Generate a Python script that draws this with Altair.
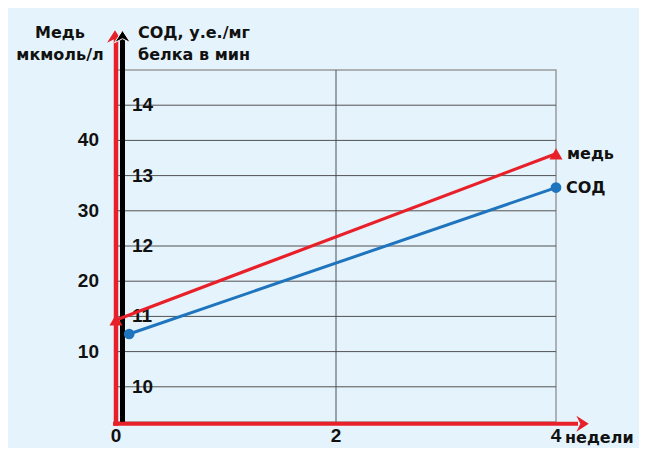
import altair as alt
import pandas as pd

# ---- data ----
copper_weeks = [0, 4]
copper = [14.5, 38.1]
sod_weeks = [0.12, 4]
sod = [10.75, 12.83]
x_ticks = [0, 2, 4]
copper_ticks = [10, 20, 30, 40]
sod_ticks = [10, 11, 12, 13, 14]
sod_grid = [10, 10.5, 11, 11.5, 12, 12.5, 13, 13.5, 14]
copper_title = ["Медь", "мкмоль/л"]
sod_title = ["СОД, у.е./мг", "белка в мин"]
x_unit = ["недели"]
series_labels = ["медь", "СОД"]

RED = "#e8202a"
BLUE = "#1f74be"
INK = "#111111"
BG = "#e5f4fc"
DIGIT_FONT = "Liberation Sans"
TEXT_FONT = "DejaVu Sans"
W, H = 440, 352

LABEL_ROW = 9.216   # SOD-scale level of the x tick label baseline
TOP_ROW = 14.95     # SOD-scale level of the axis titles / arrowheads

copper_df = pd.DataFrame({"w": copper_weeks, "v": copper})
sod_df = pd.DataFrame({"w": sod_weeks, "v": sod})
grid_df = pd.DataFrame({"v": sod_grid})
vgrid_df = pd.DataFrame({"w": [x_ticks[1]]})
xtick_df = pd.DataFrame({"w": x_ticks})
ctick_df = pd.DataFrame({"v": copper_ticks})
stick_df = pd.DataFrame({"v": sod_ticks})
ctitle_df = pd.DataFrame({"t": ["\n".join(copper_title)]})
stitle_df = pd.DataFrame({"t": ["\n".join(sod_title)]})
copper_lab = pd.DataFrame({"w": [copper_weeks[-1]], "v": [copper[-1]], "t": [series_labels[0]]})
sod_lab = pd.DataFrame({"w": [sod_weeks[-1]], "v": [sod[-1]], "t": [series_labels[1]]})
unit_df = pd.DataFrame({"w": [x_ticks[-1]], "t": x_unit})
one_df = pd.DataFrame({"k": [0]})

xs = alt.Scale(domain=[0, 4], nice=False, zero=False)
ys = alt.Scale(domain=[9.5, 14.5], nice=False, zero=False)
yc = alt.Scale(domain=[0, 50], nice=False, zero=False)


def X(field):
    return alt.X(field, type="quantitative", scale=xs, axis=None)


def XD(v):
    return alt.XDatum(v, type="quantitative", scale=xs, axis=None)


def YS(field):
    return alt.Y(field, type="quantitative", scale=ys, axis=None)


def YSD(v):
    return alt.YDatum(v, type="quantitative", scale=ys, axis=None)


def YC(field):
    return alt.Y(field, type="quantitative", scale=yc, axis=None)


UP = "M0,-1 L1,0.55 L0,0.05 L-1,0.55 Z"
RIGHT = "M1,0 L-0.55,-1 L-0.05,0 L-0.55,1 Z"

grid = alt.Chart(grid_df).mark_rule(color="#505050", strokeWidth=1).encode(
    y=YS("v"), x=XD(0), x2=alt.X2Datum(4))
vgrid = alt.Chart(vgrid_df).mark_rule(color="#505050", strokeWidth=1).encode(
    x=X("w"), y=YSD(9.5), y2=alt.Y2Datum(14.5))
red_v = alt.Chart(one_df).mark_rule(color=RED, strokeWidth=4.5).encode(
    x=XD(0), y=YSD(9.448), y2=alt.Y2Datum(TOP_ROW))
red_v_head = alt.Chart(one_df).mark_point(shape=UP, size=256, filled=True, opacity=1,
                                          color=RED, xOffset=-1).encode(
    x=XD(0), y=YSD(TOP_ROW))
black_v = alt.Chart(one_df).mark_rule(color="black", strokeWidth=5, xOffset=6.5).encode(
    x=XD(0), y=YSD(9.5), y2=alt.Y2Datum(TOP_ROW))
black_v_head = alt.Chart(one_df).mark_point(shape=UP, size=256, filled=True, opacity=1,
                                            color="black", stroke="white", strokeWidth=1,
                                            xOffset=6.5).encode(
    x=XD(0), y=YSD(TOP_ROW))
red_h = alt.Chart(one_df).mark_rule(color=RED, strokeWidth=4).encode(
    x=XD(-0.027), x2=alt.X2Datum(4.2), y=YSD(9.476))
red_h_head = alt.Chart(one_df).mark_point(shape=RIGHT, size=256, filled=True, opacity=1,
                                          color=RED).encode(
    x=XD(4.225), y=YSD(9.476))

sod_tick_text = alt.Chart(stick_df).mark_text(
    align="left", baseline="middle", dx=16, font=DIGIT_FONT, fontSize=19,
    fontWeight="bold", color=INK).encode(
    x=XD(0), y=YS("v"), text=alt.Text("v:Q", format="d"))
x_tick_text = alt.Chart(xtick_df).mark_text(
    align="center", baseline="alphabetic", font=DIGIT_FONT, fontSize=19,
    fontWeight="bold", color=INK).encode(
    x=X("w"), y=YSD(LABEL_ROW), text=alt.Text("w:Q", format="d"))
unit_text = alt.Chart(unit_df).mark_text(
    align="left", baseline="alphabetic", dx=9, dy=1, font=TEXT_FONT, fontSize=16,
    fontWeight="bold", color=INK).encode(
    x=X("w"), y=YSD(LABEL_ROW), text="t:N")
sod_title_text = alt.Chart(stitle_df).mark_text(
    align="left", baseline="alphabetic", dx=22, lineBreak="\n", lineHeight=22,
    font=TEXT_FONT, fontSize=16, fontWeight="bold", color=INK).encode(
    x=XD(0), y=YSD(TOP_ROW), text="t:N")
copper_title_text = alt.Chart(ctitle_df).mark_text(
    align="center", baseline="alphabetic", dx=-56, lineBreak="\n", lineHeight=22,
    font=TEXT_FONT, fontSize=16, fontWeight="bold", color=INK).encode(
    x=XD(0), y=YSD(TOP_ROW), text="t:N")

sod_line = alt.Chart(sod_df).mark_line(color=BLUE, strokeWidth=3).encode(
    x=X("w"), y=YS("v"))
sod_pts = alt.Chart(sod_df).mark_point(shape="circle", size=115, filled=True, opacity=1,
                                       color=BLUE).encode(x=X("w"), y=YS("v"))
sod_text = alt.Chart(sod_lab).mark_text(
    align="left", baseline="middle", dx=10, font=TEXT_FONT, fontSize=16,
    fontWeight="bold", color=INK).encode(x=X("w"), y=YS("v"), text="t:N")

sod_layer = alt.layer(grid, vgrid, sod_tick_text, red_v, red_v_head, black_v, black_v_head,
                      red_h, red_h_head, x_tick_text, unit_text, sod_title_text,
                      copper_title_text, sod_line, sod_pts, sod_text)

cu_line = alt.Chart(copper_df).mark_line(color=RED, strokeWidth=3.2).encode(
    x=X("w"), y=YC("v"))
cu_pts = alt.Chart(copper_df).mark_point(shape="triangle-up", size=170, filled=True,
                                         opacity=1, color=RED).encode(x=X("w"), y=YC("v"))
cu_text = alt.Chart(copper_lab).mark_text(
    align="left", baseline="middle", dx=11, font=TEXT_FONT, fontSize=16,
    fontWeight="bold", color=INK).encode(x=X("w"), y=YC("v"), text="t:N")
cu_tick_text = alt.Chart(ctick_df).mark_text(
    align="right", baseline="middle", dx=-17, font=DIGIT_FONT, fontSize=19,
    fontWeight="bold", color=INK).encode(
    x=XD(0), y=YC("v"), text=alt.Text("v:Q", format="d"))
cu_layer = alt.layer(cu_line, cu_pts, cu_text, cu_tick_text)

chart = alt.layer(sod_layer, cu_layer).resolve_scale(y="independent").properties(
    width=W, height=H,
    autosize=alt.AutoSizeParams(type="none"),
    padding={"left": 108, "top": 62, "right": 83, "bottom": 26},
    background=BG,
).configure_view(stroke="#9a9a9a", strokeWidth=1.5)

chart.save("out.html", embed_options={"renderer": "svg", "actions": False})
